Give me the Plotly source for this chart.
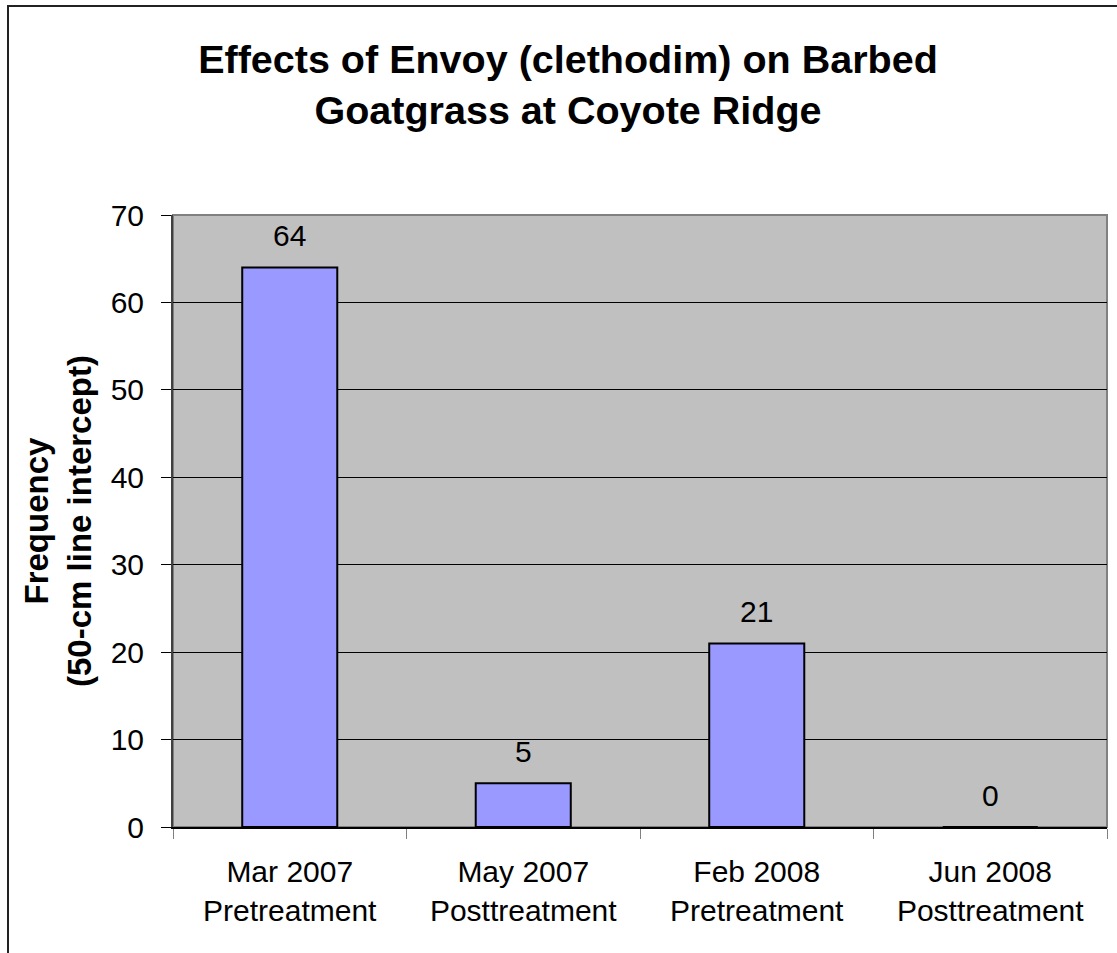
import plotly.graph_objects as go

categories = ["Mar 2007<br>Pretreatment", "May 2007<br>Posttreatment",
              "Feb 2008<br>Pretreatment", "Jun 2008<br>Posttreatment"]
values = [64, 5, 21, 0]
y_ticks = [0, 10, 20, 30, 40, 50, 60, 70]

W, H = 1117, 953
L, R, T, B = 173, 10, 215, 126
PW, PH = W - L - R, H - T - B

def px_x(p):
    return (p - L) / PW

def px_y(p):
    return 1 - (p - T) / PH

FONT = "Arial, Liberation Sans, sans-serif"

fig = go.Figure()
fig.add_trace(go.Bar(
    x=categories, y=values,
    marker=dict(color="#9999FF", line=dict(color="black", width=2)),
    hoverinfo="skip",
))

for c, v in zip(categories, values):
    fig.add_annotation(x=c, y=v, text=str(v), showarrow=False,
                       yanchor="bottom", yshift=13,
                       font=dict(family=FONT, size=30, color="black"))

fig.add_annotation(xref="paper", yref="paper", x=px_x(58), y=0.5,
                   xanchor="center", yanchor="middle", textangle=-90,
                   text="<b>Frequency<br>(50-cm line intercept)</b>",
                   showarrow=False,
                   font=dict(family=FONT, size=33, color="black"))

# plot-area gray border
fig.add_shape(type="rect", xref="paper", yref="paper", x0=0, y0=0, x1=1, y1=1,
              line=dict(color="#808080", width=2), layer="below")
# outer chart border (left and top)
fig.add_shape(type="line", xref="paper", yref="paper",
              x0=px_x(8), y0=px_y(6), x1=px_x(8), y1=px_y(H + 5),
              line=dict(color="#222222", width=2))
fig.add_shape(type="line", xref="paper", yref="paper",
              x0=px_x(7), y0=px_y(6), x1=px_x(W + 5), y1=px_y(6),
              line=dict(color="#222222", width=2))

fig.update_layout(
    width=W, height=H,
    margin=dict(l=L, r=R, t=T, b=B, autoexpand=False),
    paper_bgcolor="white", plot_bgcolor="#C0C0C0",
    bargap=0.593,
    showlegend=False,
    font=dict(family=FONT, color="black"),
    title=dict(text="<b>Effects of Envoy (clethodim) on Barbed<br>Goatgrass at Coyote Ridge</b>",
               xref="container", x=568 / W, xanchor="center",
               yref="container", y=1 - 73 / H, yanchor="top",
               font=dict(family=FONT, size=39.5, color="black")),
    xaxis=dict(type="category", tickson="boundaries", ticks="outside",
               ticklen=10, tickcolor="#808080", tickwidth=1,
               showline=True, linecolor="black", linewidth=2,
               showgrid=False, tickfont=dict(family=FONT, size=30),
               ticklabelstandoff=17, range=[-0.5, 3.5]),
    yaxis=dict(range=[0, 70], tickvals=y_ticks, ticks="outside", ticklen=10,
               tickcolor="black", tickwidth=1,
               showline=True, linecolor="#404040", linewidth=2,
               showgrid=True, gridcolor="black", gridwidth=1,
               zeroline=False, tickfont=dict(family=FONT, size=30),
               ticklabelstandoff=11),
)

fig.write_html("out.html", config={"displayModeBar": False},
               post_script="document.body.style.margin='0';")
